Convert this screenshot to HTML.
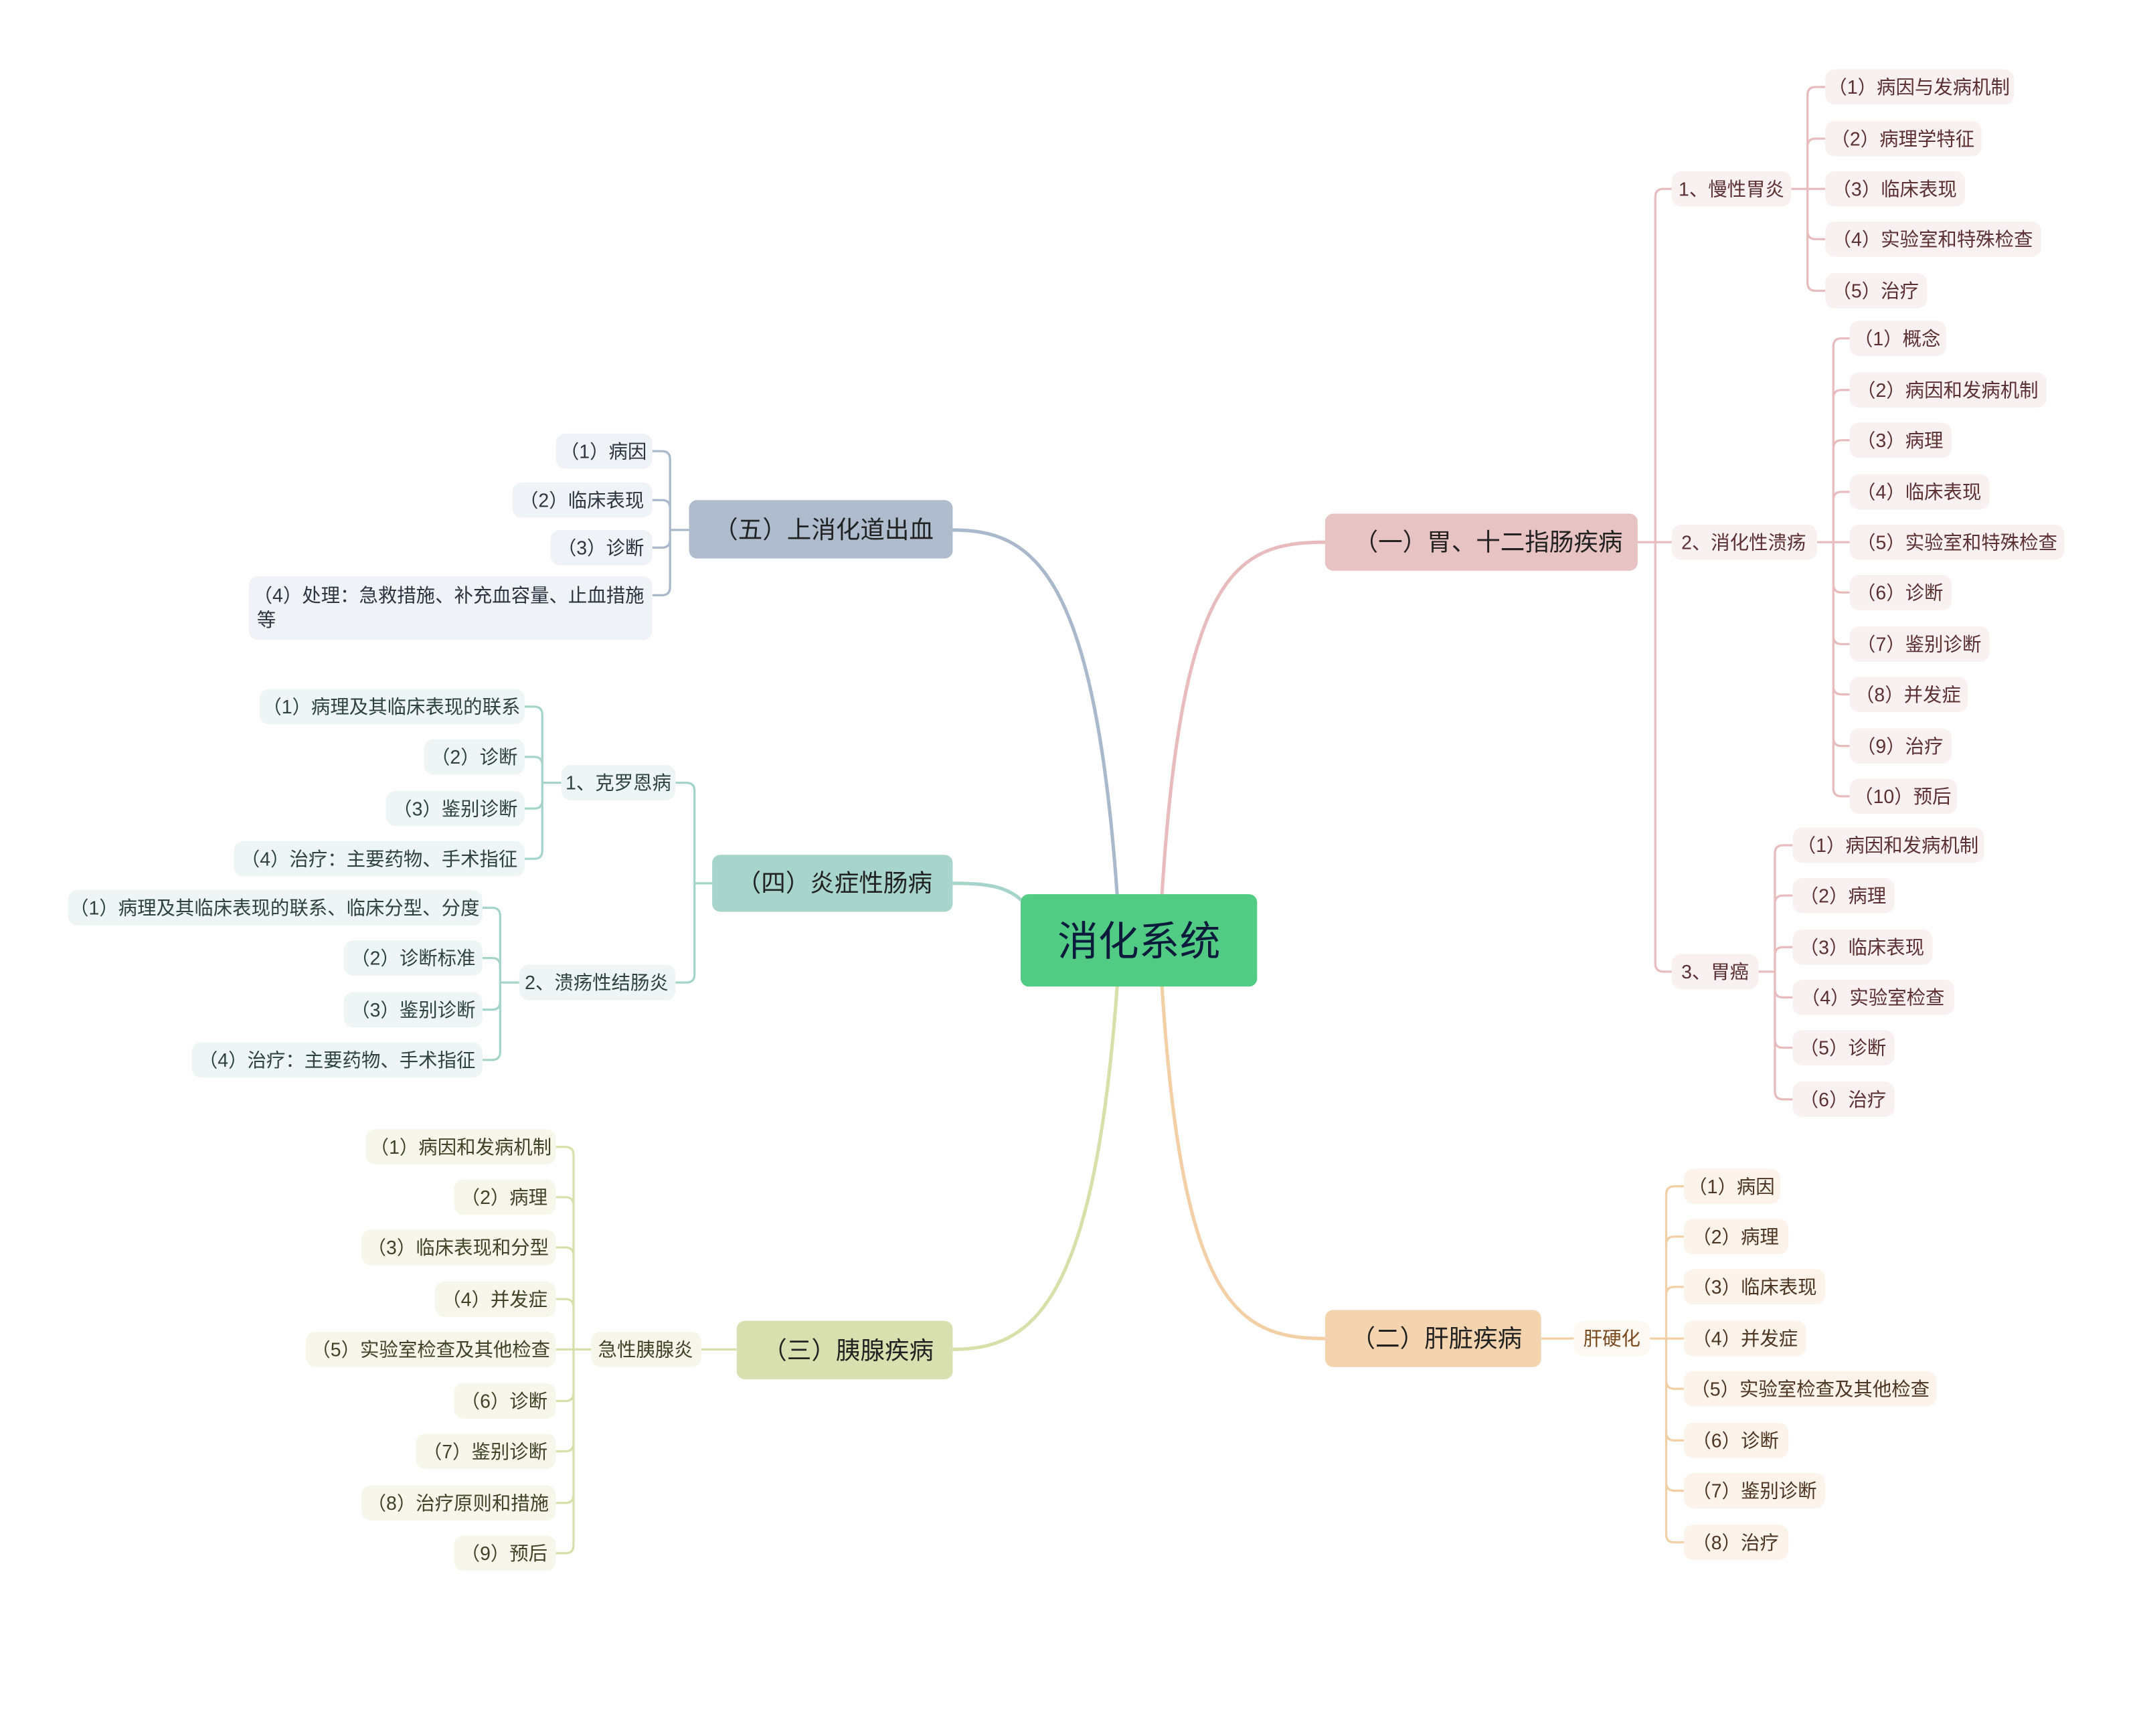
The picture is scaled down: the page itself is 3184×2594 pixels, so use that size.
<!DOCTYPE html>
<html><head><meta charset="utf-8"><style>
html,body{margin:0;padding:0;background:#fff;}
svg{display:block;}
text{font-family:"Liberation Sans","Noto Sans CJK SC",sans-serif;}
.s{font-size:14px;}
.b{font-size:18px;fill:#222;}
</style></head><body>
<svg width="3184" height="2594" viewBox="0 0 1568 1277.5" xmlns="http://www.w3.org/2000/svg">
<rect width="1568" height="1278" fill="#fff"/>
<g fill="none" stroke-width="2.5" stroke-linecap="round">
<path d="M855,658 C870,420 910,399 975,399" stroke="#e8bcbc"/>
<path d="M822,658 C805,420 760,390 701,390" stroke="#a9b8cb"/>
<path d="M751,662 C740,652 725,650 701,650" stroke="#a5d4ca"/>
<path d="M822,726 C805,960 760,993 701,993" stroke="#d8dfa9"/>
<path d="M855,726 C870,960 910,985 975,985" stroke="#f3cfa6"/>
</g>
<g fill="none" stroke-width="1.6" stroke="#e8bcbc">
<path d="M1205,399 H1230 M1218,399 V145 Q1218,139 1224,139 H1230 M1218,399 V709 Q1218,715 1224,715 H1230"/>
<path d="M1318,139 H1343 M1330,139 V70 Q1330,64 1336,64 H1343 M1330,139 V108 Q1330,102 1336,102 H1343 M1330,139 V170 Q1330,176 1336,176 H1343 M1330,139 V208 Q1330,214 1336,214 H1343"/>
<path d="M1337,399 H1361 M1349,399 V255 Q1349,249 1355,249 H1361 M1349,399 V293 Q1349,287 1355,287 H1361 M1349,399 V330 Q1349,324 1355,324 H1361 M1349,399 V368 Q1349,362 1355,362 H1361 M1349,399 V430 Q1349,436 1355,436 H1361 M1349,399 V468 Q1349,474 1355,474 H1361 M1349,399 V505 Q1349,511 1355,511 H1361 M1349,399 V543 Q1349,549 1355,549 H1361 M1349,399 V580 Q1349,586 1355,586 H1361"/>
<path d="M1294,715 H1306 V628 Q1306,622 1312,622 H1319 M1306,715 V665 Q1306,659 1312,659 H1319 M1306,715 V703 Q1306,697 1312,697 H1319 M1306,715 V728 Q1306,734 1312,734 H1319 M1306,715 V765 Q1306,771 1312,771 H1319 M1306,715 V803 Q1306,809 1312,809 H1319"/>
</g>
<g fill="none" stroke-width="1.6" stroke="#f3cfa6">
<path d="M1134,985 H1158 M1214,985 H1239 M1226,985 V879 Q1226,873 1232,873 H1239 M1226,985 V916 Q1226,910 1232,910 H1239 M1226,985 V953 Q1226,947 1232,947 H1239 M1226,985 V1016 Q1226,1022 1232,1022 H1239 M1226,985 V1054 Q1226,1060 1232,1060 H1239 M1226,985 V1091 Q1226,1097 1232,1097 H1239 M1226,985 V1129 Q1226,1135 1232,1135 H1239"/>
</g>
<g fill="none" stroke-width="1.6" stroke="#d8dfa9">
<path d="M542,993 H516 M435,993 H409 M422,993 V850 Q422,844 416,844 H409 M422,993 V887 Q422,881 416,881 H409 M422,993 V924 Q422,918 416,918 H409 M422,993 V962 Q422,956 416,956 H409 M422,993 V1025 Q422,1031 416,1031 H409 M422,993 V1062 Q422,1068 416,1068 H409 M422,993 V1100 Q422,1106 416,1106 H409 M422,993 V1137 Q422,1143 416,1143 H409"/>
</g>
<g fill="none" stroke-width="1.6" stroke="#a5d4ca">
<path d="M524,650 H511 V582 Q511,576 505,576 H497 M511,650 V717 Q511,723 505,723 H497"/>
<path d="M413,576 H399 V526 Q399,520 393,520 H386 M399,576 V563 Q399,557 393,557 H386 M399,576 V589 Q399,595 393,595 H386 M399,576 V626 Q399,632 393,632 H386"/>
<path d="M382,723 H368 V674 Q368,668 362,668 H355 M368,723 V711 Q368,705 362,705 H355 M368,723 V737 Q368,743 362,743 H355 M368,723 V774 Q368,780 362,780 H355"/>
</g>
<g fill="none" stroke-width="1.6" stroke="#a9b8cb">
<path d="M507,390 H493 V338 Q493,332 487,332 H480 M493,390 V374 Q493,368 487,368 H480 M493,390 V397 Q493,403 487,403 H480 M493,390 V432 Q493,438 487,438 H480"/>
</g>

<!-- center -->
<rect x="751" y="658" width="174" height="68" rx="6" fill="#52cc84"/>
<text x="838" y="703" text-anchor="middle" style="font-size:30px" fill="#0b1b3b">消化系统</text>

<!-- branches -->
<rect x="975" y="378" width="230" height="42" rx="6" fill="#e8c3c3"/>
<text x="1095" y="405" text-anchor="middle" class="b">（一）胃、十二指肠疾病</text>
<rect x="975" y="964" width="159" height="42" rx="6" fill="#f4d4af"/>
<text x="1057" y="991" text-anchor="middle" class="b">（二）肝脏疾病</text>
<rect x="542" y="972" width="159" height="43" rx="6" fill="#d9e0b0"/>
<text x="624" y="1000" text-anchor="middle" class="b">（三）胰腺疾病</text>
<rect x="524" y="629" width="177" height="42" rx="6" fill="#a8d5cb"/>
<text x="614" y="656" text-anchor="middle" class="b">（四）炎症性肠病</text>
<rect x="507" y="368" width="194" height="43" rx="6" fill="#aebcce"/>
<text x="606" y="396" text-anchor="middle" class="b">（五）上消化道出血</text>

<!-- pink -->
<g class="s" fill="#5c3030" text-anchor="middle">
<rect x="1230" y="126" width="88" height="26" rx="7" fill="#f9f1f1"/><text x="1274" y="144">1、慢性胃炎</text>
<rect x="1230" y="386" width="107" height="26" rx="7" fill="#f9f1f1"/><text x="1283" y="404">2、消化性溃疡</text>
<rect x="1230" y="702" width="64" height="26" rx="7" fill="#f9f1f1"/><text x="1262" y="720">3、胃癌</text>

<rect x="1343" y="51" width="139" height="26" rx="7" fill="#f9f1f1"/><text x="1412" y="69">（1）病因与发病机制</text>
<rect x="1343" y="89" width="115" height="26" rx="7" fill="#f9f1f1"/><text x="1400" y="107">（2）病理学特征</text>
<rect x="1343" y="126" width="103" height="26" rx="7" fill="#f9f1f1"/><text x="1394" y="144">（3）临床表现</text>
<rect x="1343" y="163" width="159" height="26" rx="7" fill="#f9f1f1"/><text x="1422" y="181">（4）实验室和特殊检查</text>
<rect x="1343" y="201" width="75" height="26" rx="7" fill="#f9f1f1"/><text x="1380" y="219">（5）治疗</text>

<rect x="1361" y="236" width="71" height="26" rx="7" fill="#f9f1f1"/><text x="1396" y="254">（1）概念</text>
<rect x="1361" y="274" width="145" height="26" rx="7" fill="#f9f1f1"/><text x="1433" y="292">（2）病因和发病机制</text>
<rect x="1361" y="311" width="75" height="26" rx="7" fill="#f9f1f1"/><text x="1398" y="329">（3）病理</text>
<rect x="1361" y="349" width="103" height="26" rx="7" fill="#f9f1f1"/><text x="1412" y="367">（4）临床表现</text>
<rect x="1361" y="386" width="158" height="26" rx="7" fill="#f9f1f1"/><text x="1440" y="404">（5）实验室和特殊检查</text>
<rect x="1361" y="423" width="75" height="26" rx="7" fill="#f9f1f1"/><text x="1398" y="441">（6）诊断</text>
<rect x="1361" y="461" width="103" height="26" rx="7" fill="#f9f1f1"/><text x="1412" y="479">（7）鉴别诊断</text>
<rect x="1361" y="498" width="87" height="26" rx="7" fill="#f9f1f1"/><text x="1404" y="516">（8）并发症</text>
<rect x="1361" y="536" width="75" height="26" rx="7" fill="#f9f1f1"/><text x="1398" y="554">（9）治疗</text>
<rect x="1361" y="573" width="79" height="26" rx="7" fill="#f9f1f1"/><text x="1400" y="591">（10）预后</text>

<rect x="1319" y="609" width="141" height="26" rx="7" fill="#f9f1f1"/><text x="1389" y="627">（1）病因和发病机制</text>
<rect x="1319" y="646" width="75" height="26" rx="7" fill="#f9f1f1"/><text x="1356" y="664">（2）病理</text>
<rect x="1319" y="684" width="103" height="26" rx="7" fill="#f9f1f1"/><text x="1370" y="702">（3）临床表现</text>
<rect x="1319" y="721" width="119" height="26" rx="7" fill="#f9f1f1"/><text x="1378" y="739">（4）实验室检查</text>
<rect x="1319" y="758" width="75" height="26" rx="7" fill="#f9f1f1"/><text x="1356" y="776">（5）诊断</text>
<rect x="1319" y="796" width="75" height="26" rx="7" fill="#f9f1f1"/><text x="1356" y="814">（6）治疗</text>
</g>

<!-- orange -->
<g class="s" fill="#4d3521" text-anchor="middle">
<rect x="1158" y="972" width="56" height="26" rx="7" fill="#fdf8f2"/><text x="1186" y="990" fill="#7a4a1e">肝硬化</text>
<rect x="1239" y="860" width="71" height="26" rx="7" fill="#fcf3ea"/><text x="1274" y="878">（1）病因</text>
<rect x="1239" y="897" width="77" height="26" rx="7" fill="#fcf3ea"/><text x="1277" y="915">（2）病理</text>
<rect x="1239" y="934" width="104" height="26" rx="7" fill="#fcf3ea"/><text x="1291" y="952">（3）临床表现</text>
<rect x="1239" y="972" width="90" height="26" rx="7" fill="#fcf3ea"/><text x="1284" y="990">（4）并发症</text>
<rect x="1239" y="1009" width="186" height="26" rx="7" fill="#fcf3ea"/><text x="1332" y="1027">（5）实验室检查及其他检查</text>
<rect x="1239" y="1047" width="77" height="26" rx="7" fill="#fcf3ea"/><text x="1277" y="1065">（6）诊断</text>
<rect x="1239" y="1084" width="104" height="26" rx="7" fill="#fcf3ea"/><text x="1291" y="1102">（7）鉴别诊断</text>
<rect x="1239" y="1122" width="77" height="26" rx="7" fill="#fcf3ea"/><text x="1277" y="1140">（8）治疗</text>
</g>

<!-- yellow -->
<g class="s" fill="#3f4326" text-anchor="middle">
<rect x="435" y="980" width="81" height="26" rx="7" fill="#f6f7ea"/><text x="475" y="998">急性胰腺炎</text>
<rect x="269" y="831" width="140" height="26" rx="7" fill="#f6f7ea"/><text x="339" y="849">（1）病因和发病机制</text>
<rect x="334" y="868" width="75" height="26" rx="7" fill="#f6f7ea"/><text x="371" y="886">（2）病理</text>
<rect x="266" y="905" width="143" height="26" rx="7" fill="#f6f7ea"/><text x="337" y="923">（3）临床表现和分型</text>
<rect x="320" y="943" width="89" height="26" rx="7" fill="#f6f7ea"/><text x="364" y="961">（4）并发症</text>
<rect x="225" y="980" width="184" height="26" rx="7" fill="#f6f7ea"/><text x="317" y="998">（5）实验室检查及其他检查</text>
<rect x="334" y="1018" width="75" height="26" rx="7" fill="#f6f7ea"/><text x="371" y="1036">（6）诊断</text>
<rect x="306" y="1055" width="103" height="26" rx="7" fill="#f6f7ea"/><text x="357" y="1073">（7）鉴别诊断</text>
<rect x="266" y="1093" width="143" height="26" rx="7" fill="#f6f7ea"/><text x="337" y="1111">（8）治疗原则和措施</text>
<rect x="334" y="1130" width="75" height="26" rx="7" fill="#f6f7ea"/><text x="371" y="1148">（9）预后</text>
</g>

<!-- teal -->
<g class="s" fill="#2d423d" text-anchor="middle">
<rect x="413" y="563" width="84" height="26" rx="7" fill="#edf6f4"/><text x="455" y="581">1、克罗恩病</text>
<rect x="382" y="710" width="115" height="26" rx="7" fill="#edf6f4"/><text x="439" y="728">2、溃疡性结肠炎</text>
<rect x="191" y="507" width="195" height="26" rx="7" fill="#edf6f4"/><text x="288" y="525">（1）病理及其临床表现的联系</text>
<rect x="312" y="544" width="74" height="26" rx="7" fill="#edf6f4"/><text x="349" y="562">（2）诊断</text>
<rect x="284" y="582" width="102" height="26" rx="7" fill="#edf6f4"/><text x="335" y="600">（3）鉴别诊断</text>
<rect x="172" y="619" width="214" height="26" rx="7" fill="#edf6f4"/><text x="279" y="637">（4）治疗：主要药物、手术指征</text>
<rect x="50" y="655" width="305" height="26" rx="7" fill="#edf6f4"/><text x="202" y="673">（1）病理及其临床表现的联系、临床分型、分度</text>
<rect x="253" y="692" width="102" height="26" rx="7" fill="#edf6f4"/><text x="304" y="710">（2）诊断标准</text>
<rect x="253" y="730" width="102" height="26" rx="7" fill="#edf6f4"/><text x="304" y="748">（3）鉴别诊断</text>
<rect x="141" y="767" width="214" height="26" rx="7" fill="#edf6f4"/><text x="248" y="785">（4）治疗：主要药物、手术指征</text>
</g>

<!-- blue -->
<g class="s" fill="#2c3440" text-anchor="middle">
<rect x="409" y="319" width="71" height="26" rx="7" fill="#eff2f6"/><text x="444" y="337">（1）病因</text>
<rect x="377" y="355" width="103" height="26" rx="7" fill="#eff2f6"/><text x="428" y="373">（2）临床表现</text>
<rect x="405" y="390" width="75" height="26" rx="7" fill="#eff2f6"/><text x="442" y="408">（3）诊断</text>
<rect x="183" y="424" width="297" height="47" rx="7" fill="#eff2f6"/>
<text x="474" y="443" text-anchor="end">（4）处理：急救措施、补充血容量、止血措施</text>
<text x="189" y="461" text-anchor="start">等</text>
</g>
</svg>
</body></html>
